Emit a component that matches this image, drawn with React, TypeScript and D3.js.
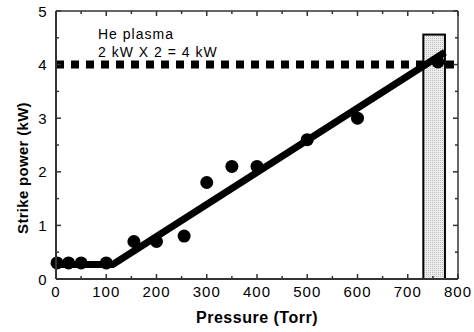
import React from "react";
import * as d3 from "d3";

const pressure = [2, 25, 50, 100, 155, 200, 255, 300, 350, 400, 500, 600, 760];
const power = [0.3, 0.3, 0.3, 0.3, 0.7, 0.7, 0.8, 1.8, 2.1, 2.1, 2.6, 3.0, 4.05];
const fitX = [0, 113, 774];
const fitY = [0.27, 0.27, 4.23];
const bandX = [731, 774];
const bandTop = 4.56;
const refLevel = 4;
const xTicks = [0, 100, 200, 300, 400, 500, 600, 700, 800];
const yTicks = [0, 1, 2, 3, 4, 5];
const noteLines = ["He plasma", "2 kW X 2 = 4 kW"];

export default function App() {
  const W = 474, H = 332;
  const L = 56, R = 458, T = 11, B = 279;
  const x = d3.scaleLinear().domain([0, 800]).range([L, R]);
  const y = d3.scaleLinear().domain([0, 5]).range([B, T]);
  const font = "'Liberation Sans', Arial, sans-serif";
  const line = d3.line<number>().x((d) => x(fitX[d])).y((d) => y(fitY[d]));
  const xMinor = d3.range(0, 801, 50);
  const yMinor = d3.range(0, 5.01, 0.5);
  const axisColor = "#333";
  return (
    <svg width={W} height={H} style={{ position: "absolute", left: 0, top: 0 }}>
      <defs>
        <pattern id="dots" width="2" height="2" patternUnits="userSpaceOnUse">
          <rect width="2" height="2" fill="#eee" />
          <rect width="1" height="1" fill="#bbb" />
        </pattern>
      </defs>
      <rect width={W} height={H} fill="#fff" />
      <line x1={x(0)} x2={R - 2} y1={y(refLevel)} y2={y(refLevel)} stroke="#000" strokeWidth={8} strokeDasharray="8,7" />
      <rect x={x(bandX[0])} y={y(bandTop)} width={x(bandX[1]) - x(bandX[0])} height={y(0) - y(bandTop)} fill="url(#dots)" stroke="#000" strokeWidth={2} />
      <path d={line([0, 1, 2]) || ""} fill="none" stroke="#000" strokeWidth={7} strokeLinejoin="miter" />
      {pressure.map((p, i) => (
        <circle key={i} cx={x(p)} cy={y(power[i])} r={6.5} fill="#000" />
      ))}
      <line x1={L} x2={R} y1={B} y2={B} stroke={axisColor} strokeWidth={2} />
      <line x1={L} x2={L} y1={T} y2={B} stroke={axisColor} strokeWidth={2} />
      <line x1={L} x2={R} y1={T} y2={T} stroke={axisColor} strokeWidth={1.5} />
      <line x1={R} x2={R} y1={T} y2={B} stroke={axisColor} strokeWidth={1.5} />
      {xMinor.map((v) => {
        const len = v % 100 === 0 ? 5 : 3;
        return (
          <g key={"xt" + v}>
            <line x1={x(v)} x2={x(v)} y1={B} y2={B - len} stroke={axisColor} strokeWidth={1.5} />
            <line x1={x(v)} x2={x(v)} y1={T} y2={T + len} stroke={axisColor} strokeWidth={1.5} />
          </g>
        );
      })}
      {yMinor.map((v) => {
        const len = Math.abs(v - Math.round(v)) < 1e-6 ? 5 : 3;
        return (
          <g key={"yt" + v}>
            <line x1={L} x2={L + len} y1={y(v)} y2={y(v)} stroke={axisColor} strokeWidth={1.5} />
            <line x1={R} x2={R - len} y1={y(v)} y2={y(v)} stroke={axisColor} strokeWidth={1.5} />
          </g>
        );
      })}
      {xTicks.map((v) => (
        <text key={"xl" + v} x={x(v)} y={297} textAnchor="middle" fontFamily={font} fontSize={15} letterSpacing={1} fill="#000">
          {v}
        </text>
      ))}
      {yTicks.map((v) => (
        <text key={"yl" + v} x={L - 9.5} y={y(v) + 5.5} textAnchor="end" fontFamily={font} fontSize={15} fill="#000">
          {v}
        </text>
      ))}
      <text x={257} y={323} textAnchor="middle" fontFamily={font} fontSize={16} letterSpacing={0.5} fontWeight="bold" fill="#000">
        Pressure (Torr)
      </text>
      <text transform={`translate(28,168) rotate(-90)`} textAnchor="middle" fontFamily={font} fontSize={15} letterSpacing={0.3} fontWeight="bold" fill="#000">
        Strike power (kW)
      </text>
      {noteLines.map((t, i) => (
        <text key={t} x={98} y={38.5 + i * 18.5} fontFamily={font} fontSize={14} letterSpacing={1} fill="#000">
          {t}
        </text>
      ))}
    </svg>
  );
}
